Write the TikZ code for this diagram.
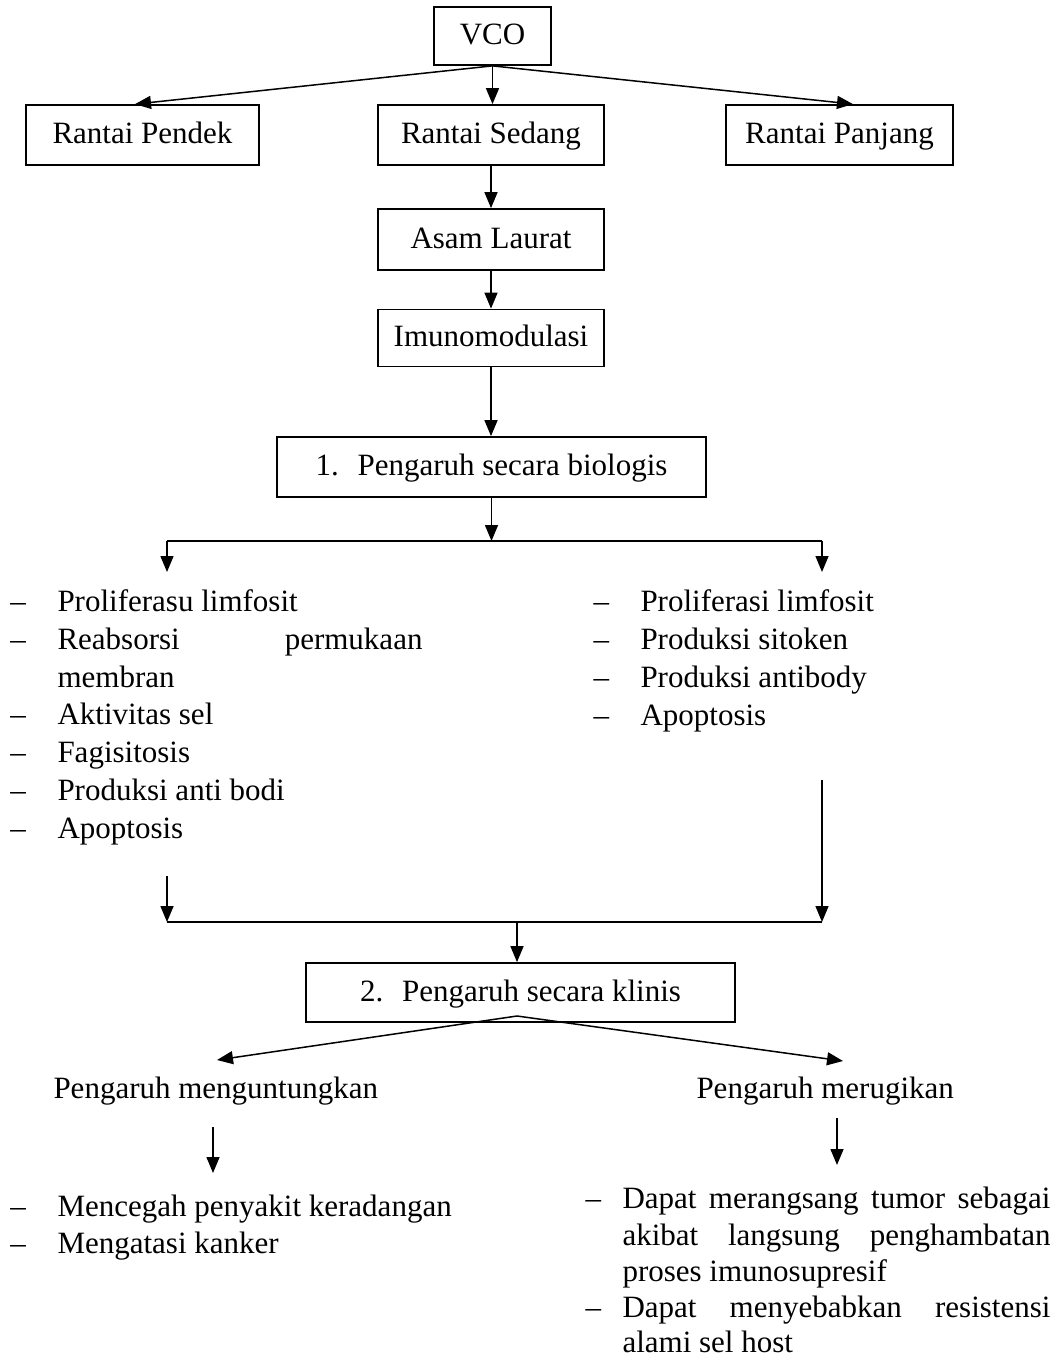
\documentclass[tikz,border=0pt]{standalone}
\usepackage{fontspec}
\setmainfont{Liberation Serif}
\usetikzlibrary{arrows.meta}
\begin{document}
\begin{tikzpicture}[x=0.4pt,y=-0.4pt,
  every node/.style={font=\fontsize{12.4}{15}\selectfont, inner sep=0pt},
  box/.style={draw, line width=0.7pt, inner sep=0pt, text height=6.8pt, text depth=0pt},
  conn/.style={line width=0.6pt, -{Triangle[length=6.4pt,width=5.2pt]}},
  plain/.style={line width=0.6pt},
  txt/.style={anchor=base west}]
\useasboundingbox (0,0) rectangle (1058,1359);

% boxes
\node[box, minimum width=46.8pt, minimum height=23.2pt] (vco) at (492.5,36) {VCO};
\node[box, minimum width=93.2pt, minimum height=24pt] (rp) at (142.5,135) {Rantai Pendek};
\node[box, minimum width=90.4pt, minimum height=24pt] (rs) at (491,135) {Rantai Sedang};
\node[box, minimum width=90.8pt, minimum height=24pt] (rj) at (839.5,135) {Rantai Panjang};
\node[box, minimum width=90.4pt, minimum height=24.4pt] (asam) at (491,239.5) {Asam Laurat};
\node[box, minimum width=90.4pt, minimum height=22.8pt] (imuno) at (491,338) {Imunomodulasi};
\node[box, minimum width=171.6pt, minimum height=24pt] (bio) at (491.5,467) {1.\hspace{7.5pt}Pengaruh secara biologis};
\node[box, minimum width=171.6pt, minimum height=23.6pt] (klinis) at (520.5,992.5) {2.\hspace{7.5pt}Pengaruh secara klinis};

% top connectors
\draw[conn] (vco.south) -- ([xshift=-3pt]rp.north);
\draw[conn] (vco.south) -- (vco.south |- rs.north);
\draw[conn] (vco.south) -- ([xshift=5.4pt]rj.north);
\draw[conn] (rs.south) -- (asam.north);
\draw[conn] (asam.south) -- (imuno.north);
\draw[conn] (imuno.south) -- (imuno.south |- bio.north);

% split after biologis
\coordinate (b1) at (167,541);
\coordinate (b2) at (822,541);
\coordinate (b1t) at (167,572);
\coordinate (b2t) at (822,572);
\draw[plain] (b1) -- (b2);
\draw[conn] (bio.south) -- (bio.south |- b1);
\draw[conn] (b1) -- (b1t);
\draw[conn] (b2) -- (b2t);

% left list
\node[txt] (ld1) at (10,611) {–};
\node[txt] (l1) at (57,611) {Proliferasu limfosit};
\node[txt] (ld2) at (10,649) {–};
\node[txt] (l2) at (57,649) {\makebox[146pt][s]{Reabsorsi permukaan}};
\node[txt] (l2b) at (57,687) {membran};
\node[txt] (ld3) at (10,724) {–};
\node[txt] (l3) at (57,724) {Aktivitas sel};
\node[txt] (ld4) at (10,762) {–};
\node[txt] (l4) at (57,762) {Fagisitosis};
\node[txt] (ld5) at (10,800) {–};
\node[txt] (l5) at (57,800) {Produksi anti bodi};
\node[txt] (ld6) at (10,838) {–};
\node[txt] (l6) at (57,838) {Apoptosis};

% right list
\node[txt] (rd1) at (593,611) {–};
\node[txt] (r1) at (640,611) {Proliferasi limfosit};
\node[txt] (rd2) at (593,649) {–};
\node[txt] (r2) at (640,649) {Produksi sitoken};
\node[txt] (rd3) at (593,687) {–};
\node[txt] (r3) at (640,687) {Produksi antibody};
\node[txt] (rd4) at (593,725) {–};
\node[txt] (r4) at (640,725) {Apoptosis};

% merge into klinis
\coordinate (c1s) at (167,876);
\coordinate (c1) at (167,922);
\coordinate (c2s) at (822,780);
\coordinate (c2) at (822,922);
\coordinate (cm) at (517,922);
\draw[conn] (c1s) -- (c1);
\draw[conn] (c2s) -- (c2);
\draw[plain] (c1) -- (c2);
\draw[conn] (cm) -- (cm |- klinis.north);

% split after klinis
\coordinate (kap) at (517,1016);
\coordinate (kl) at (217,1060);
\coordinate (kr) at (843,1061);
\draw[conn] (kap) -- (kl);
\draw[conn] (kap) -- (kr);

\node[txt] (pm) at (53,1098) {Pengaruh menguntungkan};
\node[txt] (pr) at (696,1098) {Pengaruh merugikan};

\coordinate (pms) at (213,1127);
\coordinate (pmt) at (213,1173);
\coordinate (prs) at (837,1118);
\coordinate (prt) at (837,1165);
\draw[conn] (pms) -- (pmt);
\draw[conn] (prs) -- (prt);

% bottom left list
\node[txt] (bd1) at (10,1216) {–};
\node[txt] (b1x) at (57,1216) {Mencegah penyakit keradangan};
\node[txt] (bd2) at (10,1253) {–};
\node[txt] (b2x) at (57,1253) {Mengatasi kanker};

% bottom right list
\node[txt] (ed1) at (585,1208) {–};
\node[txt] (e1) at (622,1208) {\makebox[171.2pt][s]{Dapat merangsang tumor sebagai}};
\node[txt] (e2) at (622,1245) {\makebox[171.2pt][s]{akibat langsung penghambatan}};
\node[txt] (e3) at (622,1281) {proses imunosupresif};
\node[txt] (ed2) at (585,1317) {–};
\node[txt] (e4) at (622,1317) {\makebox[171.2pt][s]{Dapat menyebabkan resistensi}};
\node[txt] (e5) at (622,1352) {alami sel host};
\end{tikzpicture}
\end{document}
